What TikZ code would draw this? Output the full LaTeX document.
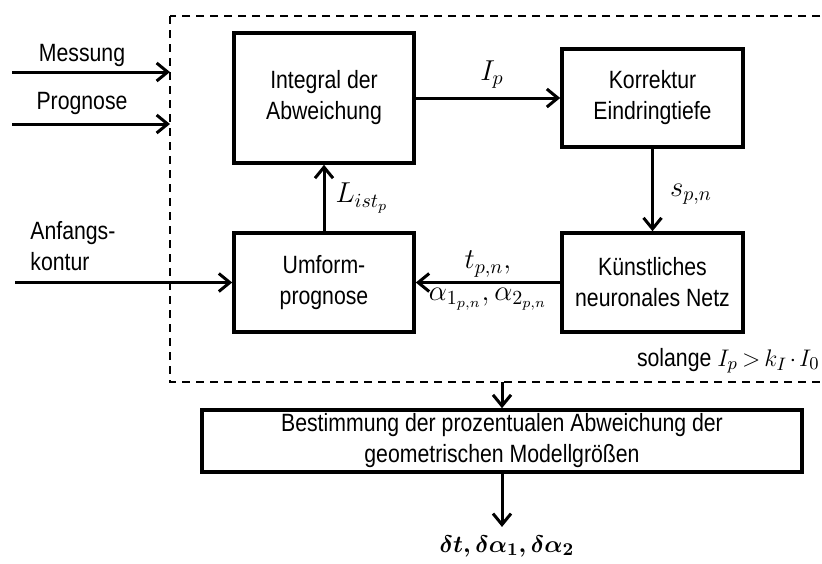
\documentclass[tikz,border=0pt]{standalone}
\usepackage{amsmath}
\usepackage{fontspec}
\setmainfont[FakeStretch=0.85]{Liberation Sans}
\usetikzlibrary{arrows.meta}
\begin{document}
\begin{tikzpicture}[x=0.5pt,y=-0.5pt,
  every node/.style={font=\fontsize{12.5}{15.5}\selectfont},
  box/.style={draw, line width=1.8pt, align=center, inner sep=0pt},
  flow/.style={line width=1.5pt, -{Straight Barb[length=5.5pt,width=9pt]}},
  loop/.style={line width=1pt, dash pattern=on 4pt off 3pt},
  lbl/.style={inner sep=2pt, font=\fontsize{14}{16}\selectfont}]
\clip (0,0) rectangle (822,563);

% iteration frame (open towards the right border)
\draw[loop] (170,16) rectangle (850,382);

% process blocks
\node[box, minimum width=90pt, minimum height=65pt] (integ) at (324,98)
  {Integral der\\Abweichung};
\node[box, minimum width=90.5pt, minimum height=49pt] (korr) at (652.5,98)
  {Korrektur\\Eindringtiefe};
\node[box, minimum width=90.5pt, minimum height=49.5pt] (knn) at (652.5,282.5)
  {Künstliches\\neuronales Netz};
\node[box, minimum width=90pt, minimum height=49.5pt] (umf) at (324,282.5)
  {Umform-\\prognose};
\node[box, minimum width=300pt, minimum height=31pt] (best) at (502,441)
  {Bestimmung der prozentualen Abweichung der\\geometrischen Modellgrößen};

% inputs
\coordinate (messA) at (12,72);
\coordinate (messB) at (170,72);
\coordinate (progA) at (12,124);
\coordinate (progB) at (170,124);
\coordinate (anfA) at (15,282.5);
\node (messlbl) at (82,55) {Messung};
\node (proglbl) at (82,103) {Prognose};
\node[align=left, anchor=west, inner sep=0pt] (anflbl) at (30,246) {Anfangs-\\kontur};
\draw[flow] (messA) -- (messB);
\draw[flow] (progA) -- (progB);
\draw[flow] (anfA) -- (umf.west);

% iteration loop
\draw[flow] (integ.east) -- node[lbl, above=2pt, xshift=2pt] {$I_p$} (korr.west);
\draw[flow] (korr.south) -- node[lbl, right=6pt, yshift=-2pt] {$s_{p,n}$} (knn.north);
\draw[flow] (knn.west) -- node[lbl, above] {$t_{p,n},$}
  node[lbl, below] {$\alpha_{1_{p,n}},\alpha_{2_{p,n}}$} (umf.east);
\draw[flow] (umf.north) -- node[lbl, right=3pt] {$L_{{ist}_p}$} (integ.south);

% termination condition
\node[anchor=base east, inner sep=0pt] (cond) at (820,366)
  {solange $I_p \mskip3mu{>}\mskip3mu k_I \mskip2mu{\cdot}\mskip2mu I_0$};

% evaluation
\coordinate (loopout) at (502,382);
\draw[flow] (loopout) -- (best.north);
\node[font=\fontsize{12.5}{15}\selectfont, inner sep=0pt] (result) at (507,546)
  {$\boldsymbol{\delta t,\delta\alpha_1,\delta\alpha_2}$};
\draw[flow] (best.south) -- ([yshift=4pt]result.north -| best.south);
\end{tikzpicture}
\end{document}
